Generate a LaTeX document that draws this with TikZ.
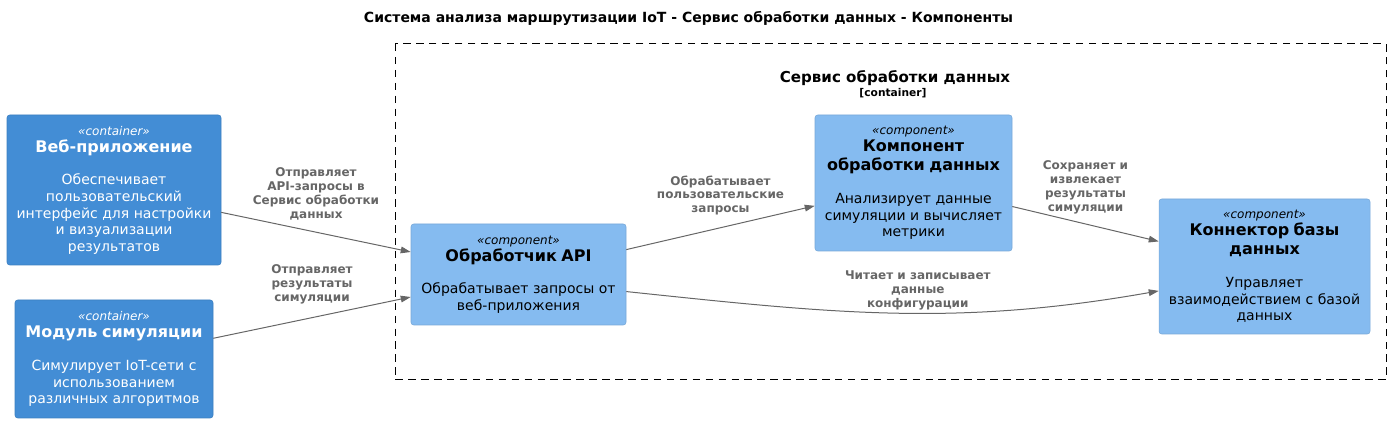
\documentclass[tikz,border=0pt]{standalone}
\usepackage{fontspec}
\setmainfont{DejaVu Sans}
\usepackage{xcolor}
\usetikzlibrary{arrows.meta}
\definecolor{cContainer}{HTML}{438DD5}
\definecolor{cContainerLine}{HTML}{3C7FC0}
\definecolor{cComponent}{HTML}{85BBF0}
\definecolor{cComponentLine}{HTML}{78A8D8}
\definecolor{cRel}{HTML}{666666}

% stereotype, name, description
\newcommand{\elemtext}[3]{%
  \parindent=0pt\parskip=0pt
  {\fontsize{9}{12}\itshape «#1»\par}%
  \vspace{-1.5pt}%
  {\fontsize{12}{14.25}\bfseries #2\par}%
  \vspace{12.3pt}%
  {\fontsize{10.5}{12.4}\selectfont #3\par}}

\tikzset{
  container/.style={draw=cContainerLine, fill=cContainer, text=white,
    rounded corners=2pt, align=center, inner sep=0pt},
  component/.style={draw=cComponentLine, fill=cComponent, text=black,
    rounded corners=2pt, align=center, inner sep=0pt},
  rel/.style={draw=cRel, line width=0.75pt, -{Triangle[length=7.5pt,width=5pt]}},
  lbl/.style={font=\fontsize{9}{10.4}\bfseries, text=cRel, align=center, inner sep=0pt},
}

\begin{document}
\begin{tikzpicture}[x=0.75pt, y=0.75pt]
  \useasboundingbox (0,0) rectangle (1391,-423);

  \node[font=\fontsize{10.5}{12}\bfseries] (title) at (688.5,-18)
    {Система анализа маршрутизации IoT - Сервис обработки данных - Компоненты};

  % boundary of the container
  \draw[line width=0.75pt, dash pattern=on 5.6pt off 4.1pt] (395,-44) rectangle (1386,-380);
  \node[font=\fontsize{11.3}{13}\bfseries] (svcname) at (895,-78) {Сервис обработки данных};
  \node[font=\fontsize{8}{10}\bfseries] (svctype) at (893,-93) {[container]};

  % containers outside
  \node[container, minimum width=160.5pt, minimum height=112.5pt, text width=150pt] (web) at (114,-190)
    {\elemtext{container}{Веб-приложение}{Обеспечивает\\пользовательский\\интерфейс для настройки\\и визуализации\\результатов}};
  \node[container, minimum width=148.5pt, minimum height=88.5pt, text width=142.5pt] (sim) at (114,-359)
    {\elemtext{container}{Модуль симуляции}{Симулирует IoT-сети с\\использованием\\различных алгоритмов}};

  % components
  \node[component, minimum width=161.25pt, minimum height=75.75pt, text width=153.75pt] (api) at (518.5,-274.5)
    {\elemtext{component}{Обработчик API}{Обрабатывает запросы от\\веб-приложения}};
  \node[component, minimum width=147.75pt, minimum height=102pt, text width=142.5pt] (proc) at (913.5,-183)
    {\elemtext{component}{Компонент\\обработки данных}{Анализирует данные\\симуляции и вычисляет\\метрики}};
  \node[component, minimum width=158.25pt, minimum height=101.25pt, text width=153.75pt] (db) at (1264.5,-266.5)
    {\elemtext{component}{Коннектор базы\\данных}{Управляет\\взаимодействием с базой\\данных}};

  % relations
  \draw[rel] (web) -- node[lbl, above=9pt] {Отправляет\\API-запросы в\\Сервис обработки\\данных} (api);
  \draw[rel] (sim) -- node[lbl, above=10pt] {Отправляет\\результаты\\симуляции} (api);
  \draw[rel] (api) -- node[lbl, above=9pt] {Обрабатывает\\пользовательские\\запросы} (proc);
  \draw[rel] (proc) -- node[lbl, above=7pt] {Сохраняет и\\извлекает\\результаты\\симуляции} (db);
  \draw[rel] (api.-9.3) to[out=-6, in=190]
    node[lbl, pos=0.55, above=2pt] {Читает и записывает\\данные\\конфигурации} (db.193.3);
\end{tikzpicture}
\end{document}
